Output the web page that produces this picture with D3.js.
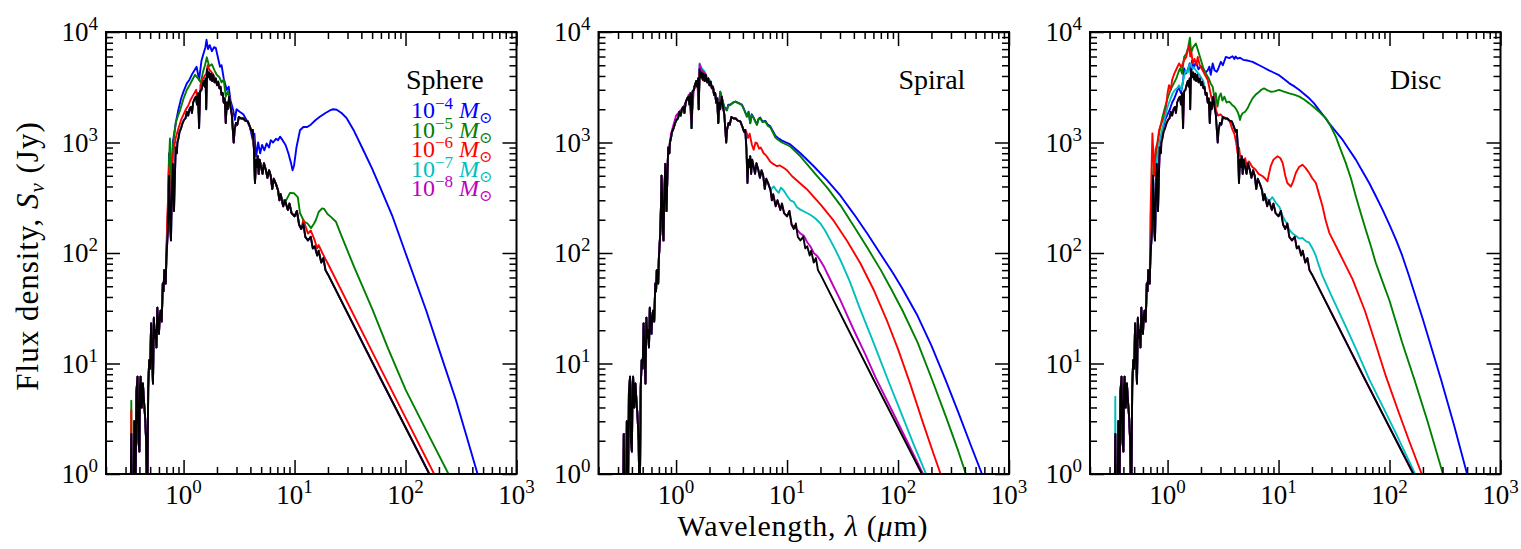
<!DOCTYPE html>
<html><head><meta charset="utf-8">
<script src="https://cdn.jsdelivr.net/npm/d3@7"></script>
<style>body{margin:0;background:#fff}svg{display:block}text{font-family:'Liberation Serif','DejaVu Serif',serif;fill:#000}</style>
</head><body><svg id="c" width="1521" height="549"></svg>
<script>
// ---------- data: wavelength (micron), flux density (Jy) ----------
const star = [[0.33,0.2],[0.338,2.3],[0.345,0.3],[0.352,0.25],[0.36,3.0],[0.368,0.5],[0.376,5.5],[0.385,7.6],[0.392,2.0],[0.4,1.6],[0.405,6.0],[0.41,7.6],[0.42,4.0],[0.43,6.6],[0.44,4.5],[0.45,3.3],[0.46,2.0],[0.47,0.4],[0.48,6.0],[0.49,10.7],[0.5,9],[0.51,23],[0.52,12],[0.53,6.6],[0.54,26],[0.55,17],[0.56,20],[0.57,14],[0.58,32],[0.59,22],[0.6,18.6],[0.61,27],[0.62,30],[0.635,24],[0.65,53],[0.66,45],[0.67,70],[0.68,60],[0.69,53],[0.7,90],[0.72,150],[0.73,250],[0.74,500],[0.75,300],[0.76,160],[0.77,130],[0.785,350],[0.8,640],[0.81,400],[0.82,240],[0.835,500],[0.85,900],[0.87,800],[0.88,1000],[0.9,1100],[0.92,1250],[0.95,1350],[0.98,1500],[1.01,1600],[1.04,1650],[1.07,1900],[1.1,1750],[1.13,2000],[1.16,2100],[1.19,1850],[1.22,2300],[1.26,2500],[1.29,2600],[1.32,2200],[1.35,2800],[1.38,1350],[1.41,2900],[1.45,3000],[1.48,3300],[1.52,3600],[1.55,3200],[1.58,3800],[1.6,2000],[1.63,4600],[1.67,3900],[1.7,4300],[1.74,3700],[1.77,4200],[1.81,3600],[1.85,4100],[1.9,3500],[1.95,3800],[2.0,3300],[2.05,3550],[2.1,3100],[2.15,3200],[2.2,2700],[2.25,2800],[2.3,2300],[2.35,2500],[2.4,1500],[2.45,2300],[2.5,2000],[2.58,2600],[2.65,2100],[2.72,1800],[2.78,1300],[2.83,1000],[2.88,1300],[2.97,1500],[3.05,1450],[3.15,1700],[3.3,1650],[3.45,1650],[3.6,1580],[3.79,1550],[3.95,1400],[4.1,1250],[4.2,1300],[4.3,900],[4.4,430],[4.5,700],[4.6,600],[4.66,750],[4.75,520],[4.85,700],[5.0,600],[5.15,520],[5.3,650],[5.5,570],[5.7,480],[5.9,560],[6.1,500],[6.3,380],[6.5,470],[6.8,420],[7.1,370],[7.3,300],[7.5,340],[7.9,265],[8.2,300],[8.7,245],[9.0,280],[9.4,230],[10.0,215],[10.5,240],[11.0,180],[11.5,165],[12.0,185],[12.5,140],[13.2,130],[14.0,140],[14.6,110],[15.2,115],[16.0,95],[16.5,105],[17.4,82],[18.2,90],[19.0,70],[20.0,64],[60,7.2],[164,1.0],[185,0.78]];

// Sphere
const sphereBlue = [[0.72,220],[0.74,800],[0.77,300],[0.8,1000],[0.85,1500],[0.9,2000],[0.95,2500],[1.0,2900],[1.07,3430],[1.13,3700],[1.2,4200],[1.31,4850],[1.38,3700],[1.45,5500],[1.52,6500],[1.57,7200],[1.61,8500],[1.66,7000],[1.72,7600],[1.8,6700],[1.88,7300],[1.95,7200],[2.03,6000],[2.13,4850],[2.2,5000],[2.3,3800],[2.45,2990],[2.55,3200],[2.65,2400],[2.8,1970],[2.9,1600],[3.0,2000],[3.2,1900],[3.45,1800],[3.7,1590],[3.95,1400],[4.2,1050],[4.35,1200],[4.5,740],[4.7,1000],[4.9,800],[5.1,950],[5.35,850],[5.6,980],[5.9,900],[6.1,1050],[6.4,1000],[6.8,1080],[7.1,1050],[7.4,1130],[7.8,1050],[8.3,950],[8.8,800],[9.3,650],[9.6,560],[9.9,620],[10.4,900],[11.2,1290],[12,1380],[13,1380],[14,1450],[15.5,1600],[16.9,1710],[19,1850],[21,1960],[22.3,2000],[24,1980],[26.5,1850],[29.5,1660],[34,1300],[41.5,860],[50,580],[58.6,400],[76.5,213],[100,100],[153,30.5],[200,13.5],[284,4.7],[350,2.3],[446,1.0],[500,0.72]];
const sphereGreenLow = [[0.336,0.4],[0.338,4.6],[0.341,0.6]];
const sphereGreenNIR = [[0.72,200],[0.74,700],[0.754,1090],[0.77,400],[0.8,900],[0.85,1500],[0.9,1800],[0.93,1960],[1.0,2500],[1.07,2990],[1.15,3400],[1.2,3700],[1.27,4100],[1.35,3800],[1.43,3500],[1.5,4400],[1.56,5000],[1.62,5900],[1.7,4900],[1.8,5100],[1.9,4500],[1.99,4100],[2.1,3900],[2.2,3500],[2.3,3700],[2.4,2600],[2.5,2900]];
const sphereGreenMIR = [[8.0,300],[8.4,300],[9.1,350],[9.9,347],[10.7,320],[11.2,230],[12.2,192],[13.1,185],[14.1,168],[15.0,185],[15.6,200],[16.5,235],[17.7,253],[18.5,250],[19.8,225],[21.5,210],[23.6,192],[26,150],[29,114],[35,72],[42,47],[50.5,30.5],[70,13.5],[100.6,5.75],[150,2.6],[244,1.0],[280,0.75]];
const sphereRedLow = [[0.336,0.4],[0.338,3.8],[0.341,0.6]];
const sphereRedNIR = [[0.70,110],[0.74,600],[0.77,200],[0.8,760],[0.85,1100],[0.9,1350],[0.95,1600],[1.0,1800],[1.05,2000],[1.1,2150],[1.15,2400],[1.2,2600],[1.25,2800],[1.3,3000],[1.38,1700],[1.42,3300],[1.5,3800],[1.6,4200],[1.65,5000],[1.7,4600],[1.8,4300],[1.9,3900],[2.0,3500]];
const sphereRedMIR = [[12.0,200],[13.2,150],[14.0,160],[15.2,130],[16.0,110],[16.5,118],[17.9,99],[19,88],[20,80],[60,8.9],[181,1.0],[200,0.82]];

// Spiral
const spiralBlue = [[2.45,2300],[2.5,2880],[2.6,2500],[2.72,2100],[2.87,1970],[2.95,2200],[3.08,2200],[3.25,2300],[3.41,2350],[3.6,2300],[3.92,2200],[4.1,2000],[4.35,1720],[4.5,1900],[4.66,1500],[4.8,1800],[5.0,1680],[5.2,1550],[5.36,1460],[5.55,1650],[5.74,1680],[6.0,1550],[6.37,1570],[6.7,1450],[7.07,1400],[7.5,1250],[7.85,1150],[8.3,1100],[9.0,1040],[10.7,960],[13.2,800],[17.4,610],[23,455],[30.3,330],[40,225],[52.8,150],[70,97],[90,66],[109,48],[150,27],[200,14.5],[267,7.2],[350,3.6],[450,1.85],[582,0.95],[650,0.7]];
const spiralGreen = [[2.45,2300],[2.5,2880],[2.6,2450],[2.72,2050],[2.87,1950],[2.95,2150],[3.08,2180],[3.25,2280],[3.41,2330],[3.6,2280],[3.92,2180],[4.1,1980],[4.35,1710],[4.5,1880],[4.66,1490],[4.8,1780],[5.0,1660],[5.2,1530],[5.36,1440],[5.55,1630],[5.74,1660],[6.0,1530],[6.37,1550],[6.7,1420],[7.07,1370],[7.5,1220],[7.85,1110],[8.3,1060],[9.0,1000],[10.7,920],[13.2,750],[17.4,540],[23,390],[30.3,270],[40,175],[52.8,112],[70,70],[86,48],[110,30],[150,15.5],[202,7.2],[270,3.3],[350,1.6],[409,1.0],[450,0.75]];
const spiralRed = [[4.3,1250],[4.45,1100],[4.6,1200],[4.83,950],[5.0,860],[5.2,1000],[5.36,985],[5.6,880],[5.8,900],[6.15,800],[6.5,760],[7.07,670],[7.5,640],[8.1,610],[8.6,620],[9.3,590],[10.0,560],[11.1,495],[15,380],[20,275],[26.4,195],[34.9,128],[46,80],[60,47],[80,24],[100,13.5],[129,6.5],[170,2.8],[210,1.5],[254,0.87],[290,0.6]];
const spiralCyanPeak = [[1.6,2200],[1.63,5200],[1.7,4700],[1.8,4400],[1.9,3900],[2.0,3700]];
const spiralCyan = [[7.2,380],[7.6,400],[8.0,370],[8.4,350],[8.8,390],[9.3,370],[10.0,330],[10.7,300],[11.5,290],[12.3,260],[13.2,247],[14.5,235],[16.2,222],[18,205],[20,185],[22,160],[24.6,130],[27.5,105],[30.3,86],[36.8,55],[45,32],[60,15.5],[82.5,6.8],[110,3.3],[140,1.8],[179,1.0],[200,0.78]];
const spiralMagentaPeak = [[0.9,1200],[1.0,1750],[1.1,1950],[1.2,2200],[1.3,2700],[1.38,1500],[1.45,3200],[1.55,3500],[1.6,2200],[1.63,5100],[1.7,4500],[1.8,4300]];
const spiralMagenta = [[11.5,175],[12.3,163],[13.2,150],[14.2,143],[15.2,125],[16.2,115],[17.4,100],[18.7,94],[20,85],[21.4,76],[24.6,57],[30,38],[40,20],[50,12.5],[63,7.4],[90,3.6],[120,2.0],[168,1.0],[190,0.78]];

// Disc
const discBlue = [[0.85,1000],[0.9,1300],[0.95,1600],[1.0,1800],[1.05,2000],[1.1,2300],[1.15,2500],[1.2,2800],[1.26,3200],[1.32,2800],[1.38,3600],[1.41,4680],[1.46,4200],[1.52,4500],[1.58,5200],[1.62,4100],[1.66,5500],[1.72,4700],[1.8,5370],[1.9,4600],[2.0,4900],[2.07,4680],[2.2,4300],[2.3,4500],[2.38,4850],[2.45,4100],[2.55,5200],[2.65,4500],[2.77,4370],[2.85,4600],[3.02,5370],[3.15,5000],[3.35,5950],[3.6,5800],[3.85,6040],[4.0,5700],[4.1,6000],[4.27,5750],[4.5,5850],[4.8,5600],[5.1,5550],[5.5,5450],[5.83,5370],[6.2,5200],[6.7,5000],[7.4,4750],[8.2,4500],[9.0,4300],[10.1,4070],[11.2,3750],[12.5,3430],[14,3200],[15.4,2980],[17,2750],[18.9,2510],[21,2250],[23.2,1970],[26,1700],[28.6,1490],[33,1250],[37.7,1060],[43,870],[49.7,700],[57,550],[65.6,430],[75,330],[86.5,247],[100,180],[114,133],[130,95],[150,62],[200,25],[292,7.1],[380,2.8],[500,1.0],[560,0.7]];
const discGreen = [[0.75,700],[0.78,500],[0.8,900],[0.85,1300],[0.9,1700],[0.95,2100],[1.0,2500],[1.05,2900],[1.1,3200],[1.15,3500],[1.2,3800],[1.25,4300],[1.3,4700],[1.35,4200],[1.41,5950],[1.47,6300],[1.53,7200],[1.59,8900],[1.63,6500],[1.7,7300],[1.8,7850],[1.9,6600],[2.0,5550],[2.1,4700],[2.22,4200],[2.35,3800],[2.45,3400],[2.55,3200],[2.65,2500],[2.72,2800],[2.82,2110],[2.92,2600],[3.02,2780],[3.12,2400],[3.25,2600],[3.4,2300],[3.6,2340],[3.8,2200],[4.0,2110],[4.15,2000],[4.27,1900],[4.4,1750],[4.49,1600],[4.6,1750],[4.74,1840],[5.0,1900],[5.26,2040],[5.5,2250],[5.83,2510],[6.2,2700],[6.7,2880],[7.0,3000],[7.4,3090],[7.8,3000],[8.5,2880],[9.2,2900],[10.1,2990],[11,2900],[12.5,2780],[14,2700],[15.4,2600],[17,2450],[18.9,2260],[21,2070],[23.2,1900],[25,1760],[26.7,1660],[29,1450],[32.8,1130],[36,880],[40.4,650],[45,470],[49.7,327],[55,230],[61,163],[68,115],[75,82],[86.5,55],[100,37],[130,15.5],[168,7.1],[220,3.0],[303,1.0],[340,0.7]];
const discRed = [[0.70,200],[0.73,1210],[0.76,500],[0.78,860],[0.81,1000],[0.84,1300],[0.88,1500],[0.93,1710],[0.97,2100],[1.0,2800],[1.03,3300],[1.07,3000],[1.1,3700],[1.15,4200],[1.2,4600],[1.27,5200],[1.33,4800],[1.41,5550],[1.47,5900],[1.52,6800],[1.57,7550],[1.6,6000],[1.64,6500],[1.69,5200],[1.75,5700],[1.82,5100],[1.87,5950],[1.95,5000],[2.07,4500],[2.2,4000],[2.3,3700],[2.4,3000],[2.55,2260],[2.65,2600],[2.73,1970],[2.85,1750],[3.0,1800],[3.13,1715],[3.4,1650],[3.6,1600],[3.85,1300],[4.0,1200],[4.15,1000],[4.27,800],[4.4,900],[4.6,650],[4.74,675],[5.0,720],[5.2,600],[5.4,675],[5.8,600],[6.2,570],[6.6,520],[7.2,495],[7.6,470],[7.95,445],[8.2,520],[8.5,610],[9.0,700],[9.8,750],[10.4,720],[10.9,650],[11.5,500],[12.0,430],[12.9,400],[13.5,440],[14.3,530],[15.3,600],[16.4,630],[17.5,590],[18.9,530],[20,480],[21.7,430],[23,350],[24.9,265],[26.5,200],[28.6,153],[35.2,101],[46.4,58],[60,30],[75,15],[93,7.6],[120,3.7],[150,2.0],[195,1.0],[220,0.73]];
const discCyanLow = [[0.336,0.4],[0.338,5.0],[0.341,0.6]];
const discCyanNIR = [[0.8,700],[0.85,1000],[0.9,1350],[0.95,1700],[1.0,2100],[1.05,2400],[1.11,2780],[1.17,3000],[1.22,3100],[1.27,3300],[1.33,3000],[1.4,3900],[1.46,4500],[1.52,4300],[1.57,5000],[1.62,5200],[1.66,4600],[1.72,4800],[1.8,4500],[1.9,4200],[2.0,3900],[2.1,3600]];
const discCyanMIR = [[7.5,330],[8.2,294],[8.8,320],[9.5,283],[10.2,260],[10.9,215],[11.7,190],[12.5,163],[13.4,150],[14.3,143],[15.3,135],[16.4,137],[17.6,128],[18.9,124],[20.2,110],[21.7,94],[23,78],[24.9,62],[30,41],[40,22],[50,13.5],[66,7.1],[90,3.8],[120,2.1],[170,1.0],[190,0.8]];

const panelTitles = ["Sphere", "Spiral", "Disc"];
const seriesColors = ["#0000ff", "#008000", "#ff0000", "#00bfbf", "#bf00bf", "#000000"];
const legendExponents = ["\u22124", "\u22125", "\u22126", "\u22127", "\u22128"];
const xTickExponents = [0, 1, 2, 3];
const yTickExponents = [0, 1, 2, 3, 4];

// ---------- build curves: star photosphere with the custom segments replacing it ----------
function compose(segments) {
  let pts = star.filter(p => !segments.some(s => p[0] >= s[0][0] && p[0] <= s[s.length - 1][0]));
  segments.forEach(s => { pts = pts.concat(s); });
  return pts.sort((a, b) => a[0] - b[0]);
}
const panels = [
  [compose([sphereBlue]), compose([sphereGreenLow, sphereGreenNIR, sphereGreenMIR]), compose([sphereRedLow, sphereRedNIR, sphereRedMIR]), compose([]), compose([]), star],
  [compose([spiralBlue]), compose([spiralGreen]), compose([spiralRed]), compose([spiralCyanPeak, spiralCyan]), compose([spiralMagentaPeak, spiralMagenta]), star],
  [compose([discBlue]), compose([discGreen]), compose([discRed]), compose([discCyanLow, discCyanNIR, discCyanMIR]), compose([]), star]
];

// ---------- layout ----------
const svg = d3.select("#c");
const panelLeft = [106, 598.5, 1090];
const panelTop = 32, pw = 410.5, ph = 442;
const x = d3.scaleLog().domain([0.2, 1000]).range([0, pw]);
const y = d3.scaleLog().domain([1, 1e4]).range([ph, 0]);
const xt = x.ticks(), yt = y.ticks();
const isMajor = v => Math.abs(Math.log10(v) - Math.round(Math.log10(v))) < 1e-9;
const line = d3.line().x(d => x(d[0])).y(d => y(d[1]));

panels.forEach((curves, i) => {
  const g = svg.append("g").attr("transform", `translate(${panelLeft[i]},${panelTop})`);
  g.append("clipPath").attr("id", "clip" + i).append("rect").attr("width", pw).attr("height", ph);
  const plot = g.append("g").attr("clip-path", `url(#clip${i})`);
  curves.forEach((c, k) => {
    plot.append("path").datum(c).attr("d", line).attr("fill", "none")
      .attr("stroke", seriesColors[k]).attr("stroke-width", 1.9).attr("stroke-linejoin", "round");
  });
  const axes = [
    [d3.axisBottom(x), xt, `translate(0,${ph})`],
    [d3.axisTop(x), xt, `translate(0,0)`],
    [d3.axisLeft(y), yt, `translate(0,0)`],
    [d3.axisRight(y), yt, `translate(${pw},0)`]
  ];
  axes.forEach(([ax, ticks, tr]) => {
    [[ticks.filter(v => !isMajor(v)), -7], [ticks.filter(isMajor), -14]].forEach(([vals, size]) => {
      const a = g.append("g").attr("transform", tr)
        .call(ax.tickValues(vals).tickSize(size).tickFormat(""));
      a.select(".domain").remove();
      a.selectAll("line").attr("stroke", "#000").attr("stroke-width", 1.5);
    });
  });
  g.append("rect").attr("width", pw).attr("height", ph).attr("fill", "none")
    .attr("stroke", "#000").attr("stroke-width", 2);
  xTickExponents.forEach(e => {
    const t = g.append("text").attr("x", x(Math.pow(10, e))).attr("y", ph + 30)
      .attr("text-anchor", "middle").attr("font-size", 27);
    t.append("tspan").text("10");
    t.append("tspan").attr("dy", -11).attr("font-size", 19).text(e);
  });
  yTickExponents.forEach(e => {
    const t = g.append("text").attr("x", -8).attr("y", y(Math.pow(10, e)) + 9)
      .attr("text-anchor", "end").attr("font-size", 27);
    t.append("tspan").text("10");
    t.append("tspan").attr("dy", -11).attr("font-size", 19).text(e);
  });
  g.append("text").attr("x", 300).attr("y", 57).attr("font-size", 28).text(panelTitles[i]);
  if (i === 0) {
    legendExponents.forEach((e, k) => {
      const t = g.append("text").attr("x", 305).attr("y", 86 + k * 19.6)
        .attr("font-size", 24).style("fill", seriesColors[k]);
      t.append("tspan").text("10");
      t.append("tspan").attr("dy", -9).attr("font-size", 17).text(e);
      t.append("tspan").attr("dy", 9).text(" ");
      t.append("tspan").attr("font-style", "italic").text("M");
      t.append("tspan").attr("dy", 5).attr("font-size", 16).text("\u2299");
    });
  }
});

const yl = svg.append("text").attr("transform", "translate(38,256) rotate(-90)")
  .attr("text-anchor", "middle").attr("font-size", 31).attr("letter-spacing", 1);
yl.append("tspan").text("Flux density, ");
yl.append("tspan").attr("font-style", "italic").text("S");
yl.append("tspan").attr("dy", 6).attr("font-size", 21).attr("font-style", "italic").text("\u03bd");
yl.append("tspan").attr("dy", -6).text(" (Jy)");

const xl = svg.append("text").attr("x", 803).attr("y", 536)
  .attr("text-anchor", "middle").attr("font-size", 30).attr("letter-spacing", 0.8);
xl.append("tspan").text("Wavelength, ");
xl.append("tspan").attr("font-style", "italic").text("\u03bb");
xl.append("tspan").text(" (");
xl.append("tspan").attr("font-style", "italic").text("\u03bc");
xl.append("tspan").text("m)");
</script></body></html>
